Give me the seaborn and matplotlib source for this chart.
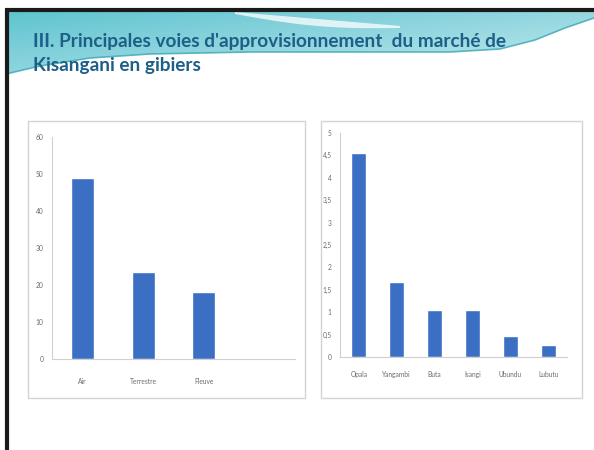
import numpy as np
import pandas as pd
import matplotlib
matplotlib.use("Agg")
import matplotlib.pyplot as plt
import seaborn as sns
from matplotlib.patches import Rectangle, Polygon
from matplotlib.colors import LinearSegmentedColormap

# ---- data ----
left_categories = ["Air", "Terrestre", "Fleuve"]
left_values = [49, 23.5, 18]
left_ticks = [0, 10, 20, 30, 40, 50, 60]

right_categories = ["Opala", "Yangambi", "Buta", "Isangi", "Ubundu", "Lubutu"]
right_values = [4.55, 1.68, 1.05, 1.05, 0.46, 0.26]
right_ticks = [0, 0.5, 1, 1.5, 2, 2.5, 3, 3.5, 4, 4.5, 5]

title_lines = ["III. Principales voies d'approvisionnement  du marché de", "Kisangani en gibiers"]

sns.set_theme(style="white")
plt.rcParams['font.family'] = ['Lato', 'DejaVu Sans']

W, H = 594, 450
fig = plt.figure(figsize=(W / 100, H / 100), dpi=100)
fig.patch.set_facecolor("white")

# background / decoration axes in pixel coords
bg = fig.add_axes([0, 0, 1, 1], zorder=0)
bg.set_xlim(0, W)
bg.set_ylim(H, 0)
bg.axis("off")

# banner: teal gradient clipped to a curved shape
cmap = LinearSegmentedColormap.from_list("ban", ["#5ec4d0", "#94d7e0", "#c9ecf0"])
gx = np.linspace(0, 1, 256).reshape(1, -1)
gy = np.linspace(0, 1, 64).reshape(-1, 1)
img = 0.5 * gy + 0.5 * gx
im = bg.imshow(img, extent=(6, W, 80, 11), cmap=cmap, aspect="auto", zorder=1)
edge_x = np.array([6, 40, 90, 150, 250, 350, 450, 500, 535, 565, 594])
edge_y = np.array([74, 66, 58, 54, 52, 52, 52, 49, 40, 28, 18])
poly_xy = np.column_stack([np.r_[6, edge_x, W], np.r_[11, edge_y, 11]])
clip = Polygon(poly_xy, closed=True, facecolor="none", edgecolor="none", transform=bg.transData)
bg.add_patch(clip)
im.set_clip_path(clip)
bg.plot(edge_x, edge_y, color="#3aa6b5", lw=1.2, alpha=0.8, zorder=2)
# white swoosh
sx = np.linspace(235, 400, 80)
t = (sx - 235) / (400 - 235)
su = 12 + 14 * t
sl = su + 2 + 5 * np.sin(t * np.pi)
bg.add_patch(Polygon(np.column_stack([np.r_[sx, sx[::-1]], np.r_[su, sl[::-1]]]),
                     closed=True, facecolor="white", alpha=0.75, edgecolor="none", zorder=2))

# dark slide border
bg.plot([5, W], [10, 10], color="#1a1a1a", lw=3, zorder=5, solid_capstyle="butt")
bg.plot([7, 7], [9, H], color="#1a1a1a", lw=3, zorder=5, solid_capstyle="butt")

# title
bg.text(33, 42, title_lines[0], color="#1d5f86", fontsize=13.7, fontweight="bold",
        va="center", ha="left", zorder=6)
bg.text(33, 65, title_lines[1], color="#1d5f86", fontsize=13.7, fontweight="bold",
        va="center", ha="left", zorder=6)

# chart panels
bg.add_patch(Rectangle((28, 121), 277, 277, facecolor="white", edgecolor="#d4d4d4", lw=1, zorder=3))
bg.add_patch(Rectangle((321, 121), 261, 277, facecolor="white", edgecolor="#d4d4d4", lw=1, zorder=3))

bar_color = "#3a6fc4"
tick_color = "#6b6b6b"

# left chart
axL = fig.add_axes([52 / W, 1 - 359 / H, 243 / W, 222 / H], zorder=4)
dfL = pd.DataFrame({"cat": left_categories, "val": left_values})
sns.barplot(data=dfL, x="cat", y="val", ax=axL, color=bar_color, width=0.38, saturation=1)
axL.set_xlim(-0.5, 3.5)
axL.set_ylim(0, 60)
axL.set_yticks(left_ticks)
axL.set_yticklabels([str(t) for t in left_ticks])

# right chart
axR = fig.add_axes([340 / W, 1 - 357 / H, 227 / W, 224 / H], zorder=4)
dfR = pd.DataFrame({"cat": right_categories, "val": right_values})
sns.barplot(data=dfR, x="cat", y="val", ax=axR, color=bar_color, width=0.4, saturation=1)
axR.set_xlim(-0.5, 5.5)
axR.set_ylim(0, 5)
axR.set_yticks(right_ticks)
axR.set_yticklabels([("%g" % t).replace(".", ",") for t in right_ticks])

for ax in (axL, axR):
    ax.set_facecolor("none")
    ax.set_xlabel("")
    ax.set_ylabel("")
    for s in ("top", "right"):
        ax.spines[s].set_visible(False)
    ax.spines["left"].set_color("#d0d0d0")
    ax.spines["bottom"].set_color("#d0d0d0")
    ax.spines["left"].set_linewidth(0.8)
    ax.spines["bottom"].set_linewidth(0.8)
    ax.tick_params(axis="both", labelsize=4.8, colors=tick_color, length=2, width=0.6, pad=4)
    ax.grid(False)
axL.tick_params(axis="x", length=0, pad=14)
axR.tick_params(axis="x", length=0, pad=10)

fig.savefig("out.png", dpi=100)
